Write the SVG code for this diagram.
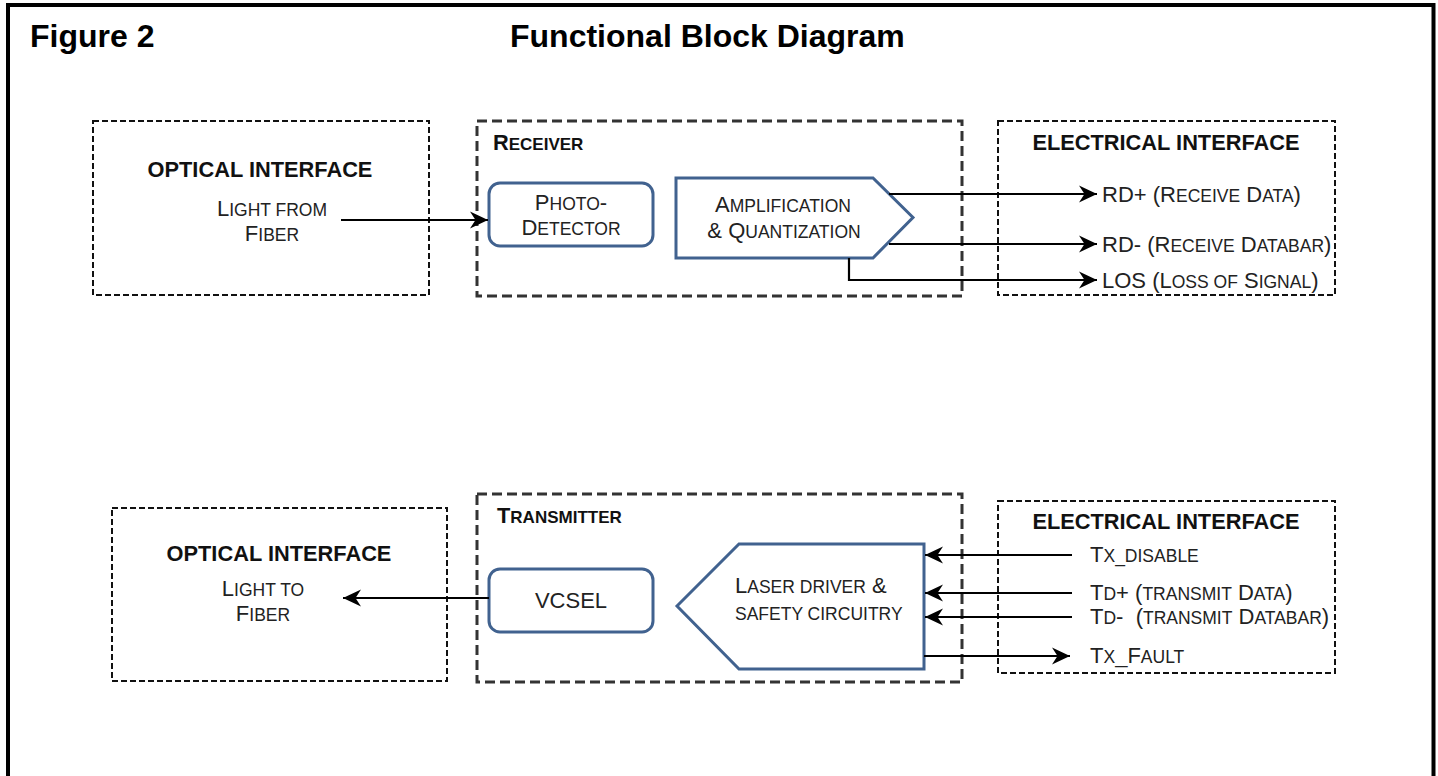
<svg xmlns="http://www.w3.org/2000/svg" width="1438" height="776" viewBox="0 0 1438 776">
<defs>
<style>
.t{font-family:"Liberation Sans",Arial,sans-serif;font-size:22px;fill:#222;white-space:pre}
.s{font-size:17.5px}
.b{font-weight:bold;fill:#111;font-size:21.8px}
.b .s{font-size:17px}
.h{font-family:"Liberation Sans",Arial,sans-serif;font-size:32px;font-weight:bold;fill:#000}
.thin{fill:#fff;stroke:#111;stroke-width:2;stroke-dasharray:6 3}
.thick{fill:#fff;stroke:#333;stroke-width:3;stroke-dasharray:10 5}
.blk{fill:#fff;stroke:#41628f;stroke-width:3}
.c{fill:none;stroke:#000;stroke-width:2.2}
</style>
<marker id="ah" markerUnits="userSpaceOnUse" markerWidth="20" markerHeight="20" viewBox="0 0 20 20" refX="19" refY="10" orient="auto">
<path d="M1,1.5 L19,10 L1,18.5 L6.5,10 Z" fill="#000"/>
</marker>
</defs>
<rect width="1438" height="776" fill="#fff"/>
<path d="M8,776 V5 H1433.5 V776" fill="none" stroke="#000" stroke-width="4"/>
<text class="h" x="30" y="47">Figure 2</text>
<text class="h" x="510" y="47">Functional Block Diagram</text>

<g id="optical-top">
<rect class="thin" x="93" y="121" width="336" height="174"/>
<text class="t b" x="260" y="177" text-anchor="middle">OPTICAL INTERFACE</text>
<text class="t" x="272" y="216" text-anchor="middle">L<tspan class="s">IGHT FROM</tspan></text>
<text class="t" x="272" y="241" text-anchor="middle">F<tspan class="s">IBER</tspan></text>
</g>
<g id="receiver">
<rect class="thick" x="477" y="121" width="485" height="175"/>
<text class="t b" x="493" y="150">R<tspan class="s">ECEIVER</tspan></text>
</g>
<g id="photodetector">
<rect class="blk" x="489" y="183" width="164" height="63" rx="11"/>
<text class="t" x="571" y="210" text-anchor="middle">P<tspan class="s">HOTO</tspan>-</text>
<text class="t" x="571" y="235" text-anchor="middle">D<tspan class="s">ETECTOR</tspan></text>
</g>
<g id="amplifier">
<path class="blk" d="M676,178 H873 L913,217.5 L873,258 H676 Z"/>
<text class="t" x="783" y="212" text-anchor="middle">A<tspan class="s">MPLIFICATION</tspan></text>
<text class="t" x="784" y="238" text-anchor="middle">&amp; Q<tspan class="s">UANTIZATION</tspan></text>
</g>
<g id="electrical-top">
<rect class="thin" x="998" y="121" width="337" height="174"/>
<text class="t b" x="1166" y="150" text-anchor="middle">ELECTRICAL INTERFACE</text>
<text class="t" x="1102" y="202">RD+ (R<tspan class="s">ECEIVE</tspan> D<tspan class="s">ATA</tspan>)</text>
<text class="t" x="1102" y="252">RD- (R<tspan class="s">ECEIVE</tspan> D<tspan class="s">ATABAR</tspan>)</text>
<text class="t" x="1102" y="288">LOS (L<tspan class="s">OSS OF</tspan> S<tspan class="s">IGNAL</tspan>)</text>
</g>

<g id="optical-bottom">
<rect class="thin" x="112" y="508" width="335" height="173"/>
<text class="t b" x="279" y="561" text-anchor="middle">OPTICAL INTERFACE</text>
<text class="t" x="263" y="596" text-anchor="middle">L<tspan class="s">IGHT TO</tspan></text>
<text class="t" x="263" y="621" text-anchor="middle">F<tspan class="s">IBER</tspan></text>
</g>
<g id="transmitter">
<rect class="thick" x="477" y="494" width="485" height="188"/>
<text class="t b" x="497" y="523">T<tspan class="s">RANSMITTER</tspan></text>
</g>
<g id="vcsel">
<rect class="blk" x="489" y="569" width="164" height="63" rx="11"/>
<text class="t" x="571" y="608" text-anchor="middle">VCSEL</text>
</g>
<g id="laser-driver">
<path class="blk" d="M677,606 L739,544 H924 V669 H739 Z"/>
<text class="t" x="735" y="593">L<tspan class="s">ASER DRIVER</tspan> &amp;</text>
<text class="t" x="735" y="620"><tspan class="s">SAFETY CIRCUITRY</tspan></text>
</g>
<g id="electrical-bottom">
<rect class="thin" x="998" y="501" width="337" height="172"/>
<text class="t b" x="1166" y="529" text-anchor="middle">ELECTRICAL INTERFACE</text>
<text class="t" x="1090" y="562">T<tspan class="s">X_DISABLE</tspan></text>
<text class="t" x="1090" y="600">T<tspan class="s">D</tspan>+ (<tspan class="s">TRANSMIT</tspan> D<tspan class="s">ATA</tspan>)</text>
<text class="t" x="1090" y="624">T<tspan class="s">D</tspan>-&#160; (<tspan class="s">TRANSMIT</tspan> D<tspan class="s">ATABAR</tspan>)</text>
<text class="t" x="1090" y="663">T<tspan class="s">X</tspan>_F<tspan class="s">AULT</tspan></text>
</g>

<g id="connectors">
<path class="c" d="M341,220 H488" marker-end="url(#ah)"/>
<path class="c" d="M889,194 H1097" marker-end="url(#ah)"/>
<path class="c" d="M889,244 H1097" marker-end="url(#ah)"/>
<path class="c" d="M849,258 V280 H1097" marker-end="url(#ah)"/>
<path class="c" d="M489,598 H343" marker-end="url(#ah)"/>
<path class="c" d="M1072,555 H925" marker-end="url(#ah)"/>
<path class="c" d="M1072,593 H925" marker-end="url(#ah)"/>
<path class="c" d="M1072,617 H925" marker-end="url(#ah)"/>
<path class="c" d="M924,656 H1070" marker-end="url(#ah)"/>
</g>
</svg>
